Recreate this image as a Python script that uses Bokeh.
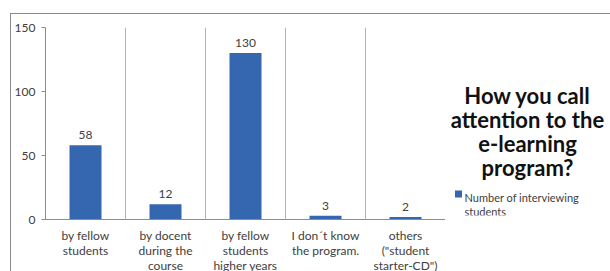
from bokeh.plotting import figure
from bokeh.layouts import row
from bokeh.models import (ColumnDataSource, Label, LabelSet, Span, FixedTicker, Range1d)
from bokeh.embed import file_html
from bokeh.resources import INLINE
from bokeh.core.properties import value

categories = ["by fellow\nstudents", "by docent\nduring the\ncourse",
              "by fellow\nstudents\nhigher years", "I don\u00b4t know\nthe program.",
              "others\n(\"student\nstarter-CD\")"]
counts = [58, 12, 130, 3, 2]
y_ticks = [0, 50, 100, 150]
title_lines = ["How you call", "attention to the", "e-learning", "program?"]
series_name = "Number of interviewing\nstudents"

FONT = "Lato"
BAR = "#3467b0"
GRID = "#b4b4b4"
AXIS = "#8c8c8c"
TXT = "#404040"

src = ColumnDataSource(dict(cat=categories, val=counts, lab=[str(v) for v in counts]))

p = figure(width=432, frame_width=400, frame_height=192,
           x_range=categories, y_range=Range1d(0, 150),
           output_backend="svg", toolbar_location=None, align="start",
           min_border_left=32, min_border_top=13, min_border_right=0, min_border_bottom=40)
p.outline_line_color = None

r = p.vbar(x="cat", top="val", width=0.4, source=src, fill_color=BAR, line_color=None)

p.add_layout(LabelSet(x="cat", y="val", text="lab", source=src, text_align="center",
                      text_baseline="bottom", y_offset=6, text_font=value(FONT),
                      text_font_size="12px", text_color=TXT))

# category separators
for i in range(1, len(categories) + 1):
    p.add_layout(Span(location=i, dimension="height", line_color=GRID, line_width=1))

p.xgrid.grid_line_color = None
p.ygrid.grid_line_color = None

p.yaxis.ticker = FixedTicker(ticks=y_ticks)
p.yaxis.axis_line_color = AXIS
p.yaxis.major_tick_line_color = AXIS
p.yaxis.major_tick_out = 4
p.yaxis.major_tick_in = 0
p.yaxis.minor_tick_line_color = None
p.yaxis.major_label_text_font = FONT
p.yaxis.major_label_text_font_size = "12px"
p.yaxis.major_label_text_color = TXT
p.yaxis.major_label_standoff = 6

p.xaxis.axis_line_color = AXIS
p.xaxis.major_tick_line_color = None
p.xaxis.minor_tick_line_color = None
p.xaxis.major_label_text_font = FONT
p.xaxis.major_label_text_font_size = "12px"
p.xaxis.major_label_text_color = TXT
p.xaxis.major_label_standoff = 2
p.xaxis.major_label_text_line_height = 1.0

# right panel: title and legend (its frame is aligned with the chart's frame;
# ranges set so that one unit is one pixel of the page)
q = figure(width=167, height=257, x_range=Range1d(443, 610), y_range=Range1d(219, 27),
           output_backend="svg", toolbar_location=None, x_axis_type=None, y_axis_type=None,
           min_border=0, align="start", title=None)
q.outline_line_color = None
q.grid.visible = False

for i, t in enumerate(title_lines):
    q.add_layout(Label(x=525, y=96 + 24.8 * i, text=t,
                       text_align="center", text_baseline="alphabetic", text_font=FONT,
                       text_font_size="22px", text_font_style="bold", text_color="#111111"))

# legend swatch and label
q.scatter(x=[456], y=[197], marker="square", size=7, fill_color=BAR, line_color=None)
for i, t in enumerate(series_name.split("\n")):
    q.add_layout(Label(x=462, y=201 + 14 * i, text=t, text_align="left",
                       text_baseline="alphabetic", text_font=FONT, text_font_size="11px",
                       text_color=TXT))

layout = row(p, q, margin=(13, 0, 0, 10), align="start",
             styles={"border-left": "1.5px solid #8a8a8a", "border-top": "1.5px solid #8a8a8a"})

open("out.html", "w").write(file_html(layout, INLINE))
